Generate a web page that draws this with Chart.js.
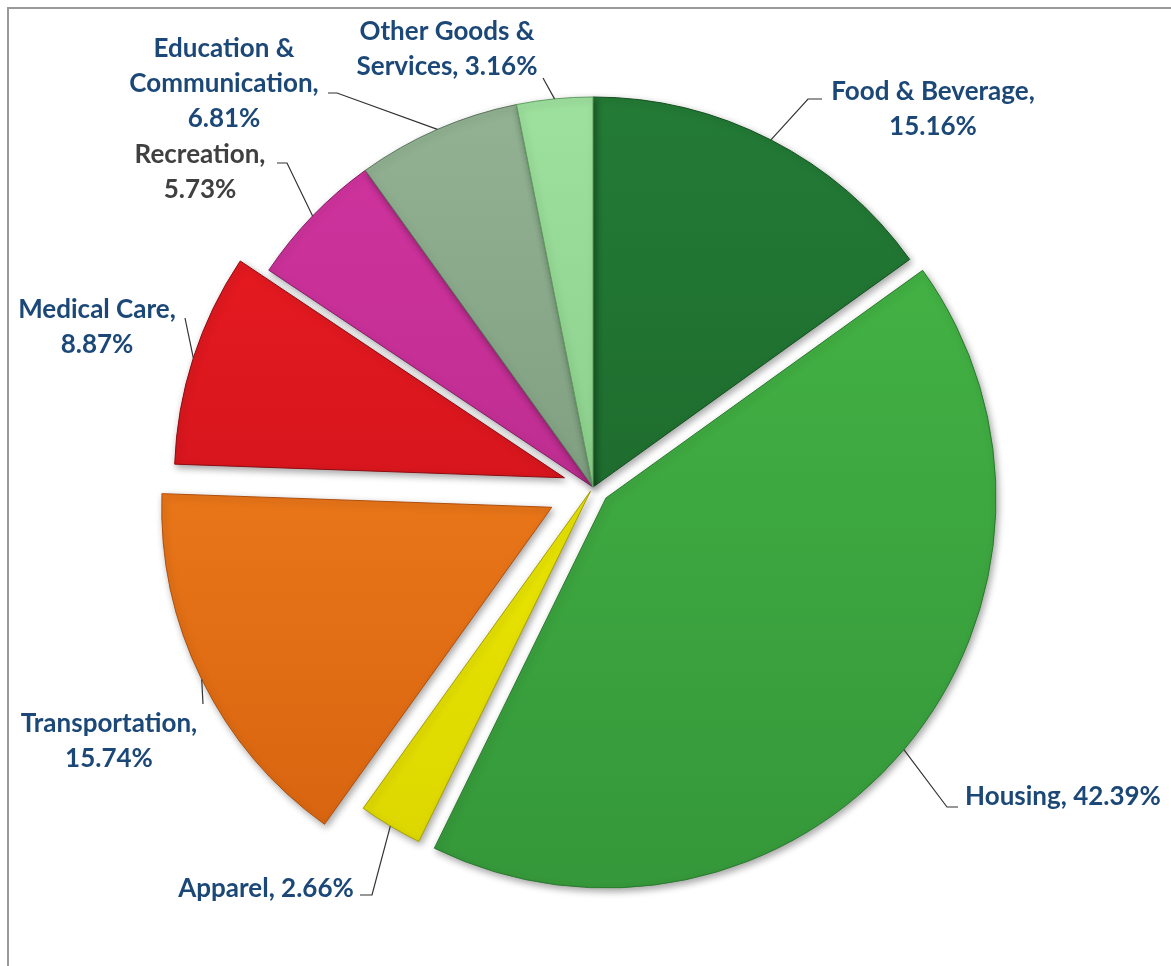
<!DOCTYPE html>
<html>
  <head>
    <script src="https://cdn.jsdelivr.net/npm/chart.js@4/dist/chart.umd.min.js"></script>
    <style>
      body { margin: 0; background: #fff; }
    </style>
  </head>

  <body>
    <canvas id="canvas" width="1171" height="966"></canvas>
    <script>
      const categories = [
        'Food & Beverage',
        'Housing',
        'Apparel',
        'Transportation',
        'Medical Care',
        'Recreation',
        'Education & Communication',
        'Other Goods & Services',
      ];
      const shares = [15.16, 42.39, 2.66, 15.74, 8.87, 5.73, 6.81, 3.16];

      const colorsTop = ['#237b36', '#46b846', '#f6f400', '#fc8a22', '#ee1c22', '#d2349f', '#93b293', '#9ee09e'];
      const colorsBottom = ['#1a5f27', '#35983a', '#dcd600', '#d6620f', '#c00f18', '#ab2784', '#6e8e70', '#7cc27c'];
      const edgeColors = ['#14501f', '#2b7a2e', '#a8a000', '#b04e0a', '#8e0c12', '#861c66', '#5a745b', '#5fa05f'];
      // how far each slice is pulled out of the pie (px)
      const explode = [0, 17, 5, 46, 30, 0, 0, 0];

      const RADIUS = 390;

      // where each data label sits: centre x, first baseline, words per line, leader line points
      const labelLayout = [
        { x: 933, y: 100, wrap: [3, 1], color: '#1c4878', line: [[808, 99], [822, 99]] },
        { x: 1063, y: 805, wrap: [2], color: '#1c4878', line: [[947, 807], [958, 807]] },
        { x: 266, y: 897, wrap: [2], color: '#1c4878', line: [[372, 895], [360, 895]] },
        { x: 109, y: 732, wrap: [1, 1], color: '#1c4878', line: [[203, 704]] },
        { x: 97, y: 318, wrap: [2, 1], color: '#1c4878', line: [[185, 318]] },
        { x: 200, y: 163, wrap: [1, 1], color: '#404040', line: [[287, 163], [277, 163]] },
        { x: 224, y: 57, wrap: [2, 1, 1], color: '#1c4878', line: [[337, 93], [328, 93]] },
        { x: 447, y: 40, wrap: [3, 2], color: '#1c4878', line: [[543, 78]] },
      ];
      const LINE_HEIGHT = 35;

      function sliceFill(ctx) {
        const i = ctx.dataIndex;
        const area = ctx.chart.chartArea;
        if (!area) return colorsTop[i];
        const cy = (area.top + area.bottom) / 2;
        const g = ctx.chart.ctx.createLinearGradient(0, cy - RADIUS, 0, cy + RADIUS);
        g.addColorStop(0, colorsTop[i]);
        g.addColorStop(1, colorsBottom[i]);
        return g;
      }

      const framePlugin = {
        id: 'frame',
        beforeDraw(chart) {
          const c = chart.ctx;
          c.save();
          c.fillStyle = '#fff';
          c.fillRect(0, 0, chart.width, chart.height);
          c.strokeStyle = '#9a9a9a';
          c.lineWidth = 2;
          c.strokeRect(8, 8, chart.width + 20, chart.height + 20);
          c.restore();
        },
      };

      const explodePlugin = {
        id: 'explode',
        afterDatasetUpdate(chart, args) {
          args.meta.data.forEach((arc, i) => {
            const mid = (arc.startAngle + arc.endAngle) / 2;
            arc.x += Math.cos(mid) * explode[i];
            arc.y += Math.sin(mid) * explode[i];
          });
        },
      };

      const shadowPlugin = {
        id: 'shadow',
        beforeDatasetsDraw(chart) {
          const c = chart.ctx;
          c.save();
          c.shadowColor = 'rgba(0,0,0,0.35)';
          c.shadowBlur = 7;
          c.shadowOffsetX = 2;
          c.shadowOffsetY = 3;
        },
        afterDatasetsDraw(chart) {
          chart.ctx.restore();
        },
      };

      const labelPlugin = {
        id: 'sliceLabels',
        afterDraw(chart) {
          const c = chart.ctx;
          const arcs = chart.getDatasetMeta(0).data;
          c.save();
          arcs.forEach((arc, i) => {
            const lay = labelLayout[i];
            const mid = (arc.startAngle + arc.endAngle) / 2;
            const ax = arc.x + Math.cos(mid) * arc.outerRadius;
            const ay = arc.y + Math.sin(mid) * arc.outerRadius;

            c.strokeStyle = '#333';
            c.lineWidth = 1.2;
            c.beginPath();
            c.moveTo(ax, ay);
            lay.line.forEach((p) => c.lineTo(p[0], p[1]));
            c.stroke();

            const words = (categories[i] + ', ' + shares[i].toFixed(2) + '%').split(' ');
            const lines = [];
            let k = 0;
            lay.wrap.forEach((n) => {
              lines.push(words.slice(k, k + n).join(' '));
              k += n;
            });
            c.font = 'bold 26px Lato';
            c.fillStyle = lay.color;
            c.textAlign = 'center';
            c.textBaseline = 'alphabetic';
            lines.forEach((t, j) => c.fillText(t, lay.x, lay.y + j * LINE_HEIGHT));
          });
          c.restore();
        },
      };

      new Chart(document.getElementById('canvas').getContext('2d'), {
        type: 'pie',
        data: {
          labels: categories,
          datasets: [
            {
              data: shares,
              backgroundColor: sliceFill,
              borderColor: edgeColors,
              borderWidth: 1,
              radius: RADIUS,
            },
          ],
        },
        options: {
          responsive: false,
          animation: false,
          radius: RADIUS,
          layout: {
            padding: { left: 15, top: 8, right: 0, bottom: 0 },
          },
          plugins: {
            legend: { display: false },
            tooltip: { enabled: false },
          },
        },
        plugins: [framePlugin, explodePlugin, shadowPlugin, labelPlugin],
      });
    </script>
  </body>
</html>
